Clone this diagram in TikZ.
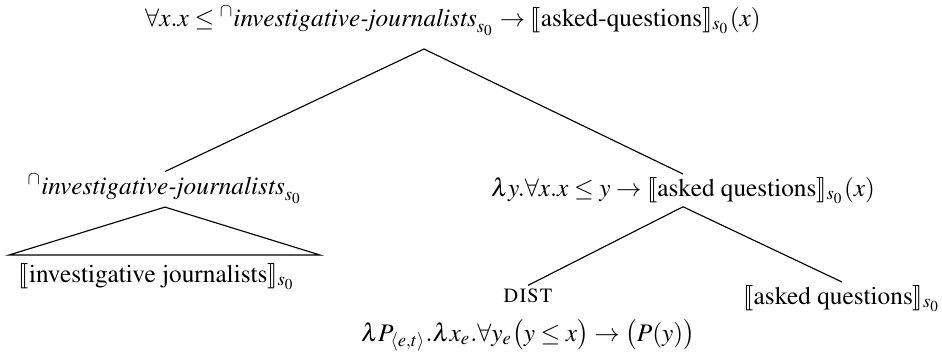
\documentclass[tikz,border=0pt]{standalone}
\usepackage[T1]{fontenc}
\usepackage{mathptmx}
\usepackage{amsmath}
\usepackage{stmaryrd}
\usepackage{tikz}
\usetikzlibrary{positioning}

\begin{document}
\begin{tikzpicture}[
  x=0.0139cm, y=-0.0139cm,
  term/.style={inner sep=1pt, anchor=base},
  branch/.style={line width=0.45pt}
]
\useasboundingbox (0,0) rectangle (942,352);
% nodes of the tree
\node[term] (root) at (453,26)
  {$\forall x.x \leq {}^{\cap}\textit{investigative-journalists}_{s_0} \rightarrow \llbracket\text{asked-questions}\rrbracket_{s_0}(x)$};
\node[term] (subj) at (165,194)
  {${}^{\cap}\textit{investigative-journalists}_{s_0}$};
\node[term] (vp) at (683,196)
  {$\lambda y.\forall x.x \leq y \rightarrow \llbracket\text{asked questions}\rrbracket_{s_0}(x)$};
\node[term] (subjleaf) at (157,282)
  {$\llbracket\text{investigative journalists}\rrbracket_{s_0}$};
\node[term] (dist) at (528,302) {\textsc{dist}};
\node[term] (distdef) at (528,341)
  {$\lambda P_{\langle e,t\rangle}.\lambda x_e.\forall y_e\bigl(y \leq x\bigr) \rightarrow \bigl(P(y)\bigr)$};
\node[term] (vpleaf) at (842,304)
  {$\llbracket\text{asked questions}\rrbracket_{s_0}$};
\coordinate (rootapex) at (424,49);
\coordinate (triL) at (9,255);
\coordinate (triR) at (320,255);
% branches
\draw[branch] (subj.north) -- (rootapex) -- (vp.north);
\draw[branch] (subj.south) -- (triL) -- (triR) -- cycle;
\draw[branch] (dist.north) -- (vp.south) -- (vpleaf.north);
\end{tikzpicture}
\end{document}
